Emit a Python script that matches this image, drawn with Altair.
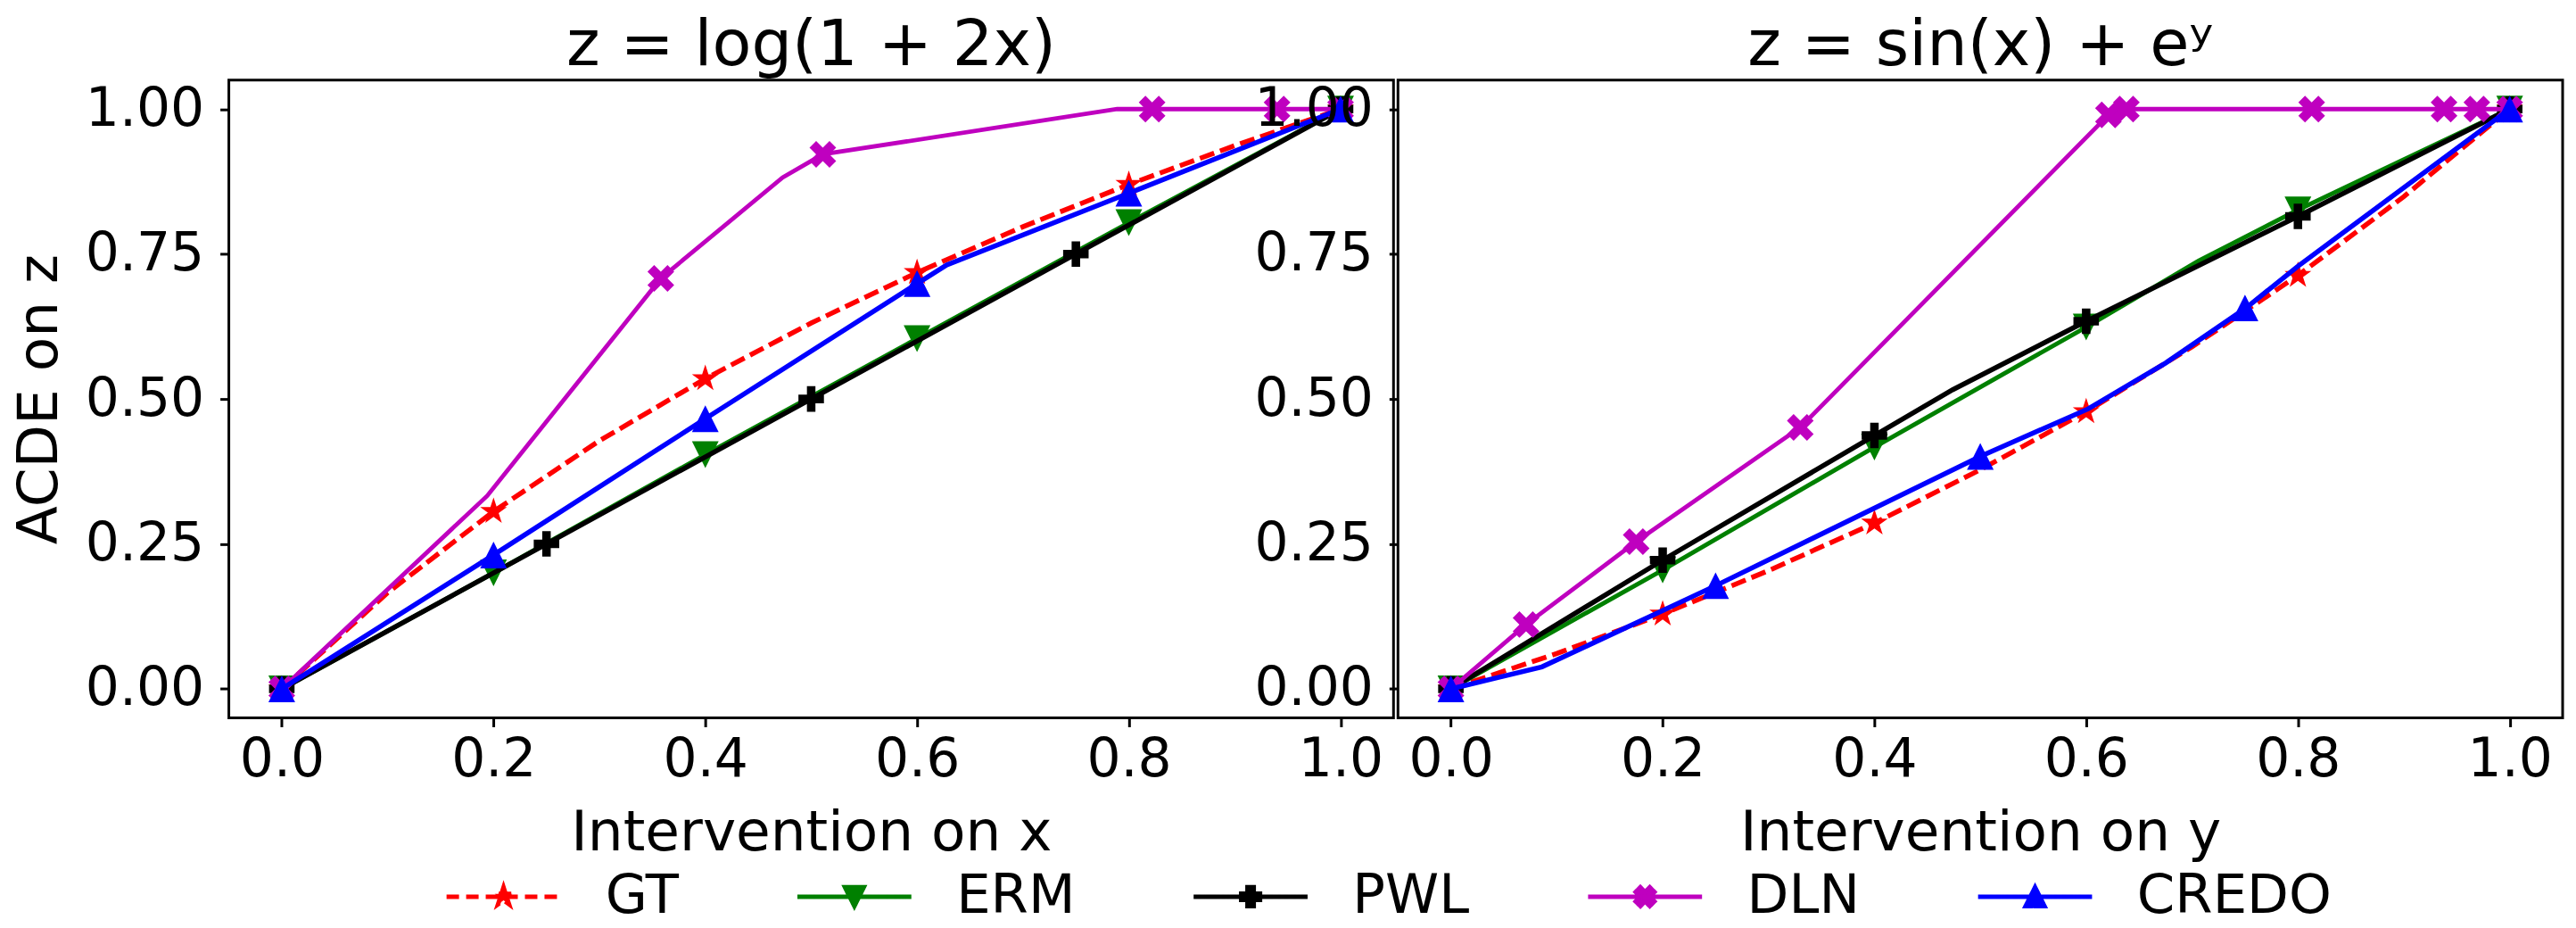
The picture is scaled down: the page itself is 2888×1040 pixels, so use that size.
import altair as alt
import pandas as pd

SERIES = ["GT", "ERM", "PWL", "DLN", "CREDO"]
COLORS = ["#ff0000", "#008000", "#000000", "#bf00bf", "#0000ff"]

X_TICKS = [0.0, 0.2, 0.4, 0.6, 0.8, 1.0]
Y_TICKS = [0.0, 0.25, 0.5, 0.75, 1.0]

TITLE_LEFT = "z = log(1 + 2x)"
TITLE_RIGHT = "z = sin(x) + eʸ"
XLABEL_LEFT = "Intervention on x"
XLABEL_RIGHT = "Intervention on y"
YLABEL = "ACDE on z"

# ---------------- Left panel: intervention on x ----------------
L_GT_X = [0.0, 0.1, 0.2, 0.3, 0.4, 0.5, 0.6, 0.7, 0.8, 0.9, 1.0]
L_GT_Y = [0.0, 0.166, 0.306, 0.428, 0.535, 0.631, 0.718, 0.797, 0.870, 0.937, 1.0]
L_GT_MX = [0.0, 0.2, 0.4, 0.6, 0.8, 1.0]
L_GT_MY = [0.0, 0.306, 0.535, 0.718, 0.870, 1.0]

L_ERM_X = [0.0, 0.2, 0.4, 0.6, 0.8, 1.0]
L_ERM_Y = [0.0, 0.200, 0.404, 0.604, 0.804, 1.0]
L_ERM_MX = [0.0, 0.2, 0.4, 0.6, 0.8, 1.0]
L_ERM_MY = [0.0, 0.200, 0.404, 0.604, 0.804, 1.0]

L_PWL_X = [0.0, 0.25, 0.5, 0.75, 1.0]
L_PWL_Y = [0.0, 0.25, 0.5, 0.75, 1.0]
L_PWL_MX = [0.0, 0.25, 0.5, 0.75, 1.0]
L_PWL_MY = [0.0, 0.25, 0.5, 0.75, 1.0]

L_DLN_X = [0.0, 0.194, 0.358, 0.473, 0.511, 0.789, 0.822, 0.940, 1.0]
L_DLN_Y = [0.0, 0.333, 0.708, 0.882, 0.922, 1.0, 1.0, 1.0, 1.0]
L_DLN_MX = [0.0, 0.358, 0.511, 0.822, 0.940, 1.0]
L_DLN_MY = [0.0, 0.708, 0.922, 1.0, 1.0, 1.0]

L_CREDO_X = [0.0, 0.2, 0.4, 0.6, 0.628, 0.8, 1.0]
L_CREDO_Y = [0.0, 0.231, 0.466, 0.699, 0.731, 0.855, 1.0]
L_CREDO_MX = [0.0, 0.2, 0.4, 0.6, 0.8, 1.0]
L_CREDO_MY = [0.0, 0.231, 0.466, 0.699, 0.855, 1.0]

# ---------------- Right panel: intervention on y ----------------
R_GT_X = [0.0, 0.1, 0.2, 0.3, 0.4, 0.5, 0.6, 0.7, 0.8, 0.9, 1.0]
R_GT_Y = [0.0, 0.061, 0.129, 0.204, 0.286, 0.378, 0.478, 0.590, 0.713, 0.849, 1.0]
R_GT_MX = [0.0, 0.2, 0.4, 0.6, 0.8, 1.0]
R_GT_MY = [0.0, 0.129, 0.286, 0.478, 0.713, 1.0]

R_ERM_X = [0.0, 0.2, 0.4, 0.6, 0.706, 0.8, 1.0]
R_ERM_Y = [0.0, 0.205, 0.417, 0.624, 0.738, 0.826, 1.0]
R_ERM_MX = [0.0, 0.2, 0.4, 0.6, 0.8, 1.0]
R_ERM_MY = [0.0, 0.205, 0.417, 0.624, 0.826, 1.0]

R_PWL_X = [0.0, 0.2, 0.4, 0.474, 0.6, 0.8, 1.0]
R_PWL_Y = [0.0, 0.222, 0.437, 0.516, 0.634, 0.815, 1.0]
R_PWL_MX = [0.0, 0.2, 0.4, 0.6, 0.8, 1.0]
R_PWL_MY = [0.0, 0.222, 0.437, 0.634, 0.815, 1.0]

R_DLN_X = [0.0, 0.071, 0.175, 0.330, 0.621, 0.638, 0.813, 0.938, 0.969, 1.0]
R_DLN_Y = [0.0, 0.111, 0.254, 0.451, 0.990, 1.0, 1.0, 1.0, 1.0, 1.0]
R_DLN_MX = [0.0, 0.071, 0.175, 0.330, 0.621, 0.638, 0.813, 0.938, 0.969, 1.0]
R_DLN_MY = [0.0, 0.111, 0.254, 0.451, 0.990, 1.0, 1.0, 1.0, 1.0, 1.0]

R_CREDO_X = [0.0, 0.086, 0.2, 0.25, 0.5, 0.602, 0.675, 0.751, 0.8, 1.0]
R_CREDO_Y = [0.0, 0.038, 0.135, 0.178, 0.401, 0.483, 0.562, 0.657, 0.729, 1.0]
R_CREDO_MX = [0.0, 0.25, 0.5, 0.75, 1.0]
R_CREDO_MY = [0.0, 0.178, 0.401, 0.657, 1.0]

TABLE = {
    "L": {
        "GT": (L_GT_X, L_GT_Y, L_GT_MX, L_GT_MY),
        "ERM": (L_ERM_X, L_ERM_Y, L_ERM_MX, L_ERM_MY),
        "PWL": (L_PWL_X, L_PWL_Y, L_PWL_MX, L_PWL_MY),
        "DLN": (L_DLN_X, L_DLN_Y, L_DLN_MX, L_DLN_MY),
        "CREDO": (L_CREDO_X, L_CREDO_Y, L_CREDO_MX, L_CREDO_MY),
    },
    "R": {
        "GT": (R_GT_X, R_GT_Y, R_GT_MX, R_GT_MY),
        "ERM": (R_ERM_X, R_ERM_Y, R_ERM_MX, R_ERM_MY),
        "PWL": (R_PWL_X, R_PWL_Y, R_PWL_MX, R_PWL_MY),
        "DLN": (R_DLN_X, R_DLN_Y, R_DLN_MX, R_DLN_MY),
        "CREDO": (R_CREDO_X, R_CREDO_Y, R_CREDO_MX, R_CREDO_MY),
    },
}

rows = []
for panel, series_map in TABLE.items():
    for s, (lx, ly, mx, my) in series_map.items():
        for i, (a, b) in enumerate(zip(lx, ly)):
            rows.append({"panel": panel, "series": s, "kind": "line", "idx": i, "x": a, "y": b})
        for i, (a, b) in enumerate(zip(mx, my)):
            rows.append({"panel": panel, "series": s, "kind": "mark", "idx": i, "x": a, "y": b})
df = pd.DataFrame(rows)

# ---------------- marker glyphs (unit square, y down) ----------------
STAR = [(0, -1), (0.2245, -0.309), (0.951, -0.309), (0.363, 0.118), (0.588, 0.809),
        (0, 0.382), (-0.588, 0.809), (-0.363, 0.118), (-0.951, -0.309), (-0.2245, -0.309)]
TRI_DOWN = [(-1, -1), (1, -1), (0, 1)]
TRI_UP = [(0, -1), (1, 1), (-1, 1)]
PLUS = [(-1/3, -1), (1/3, -1), (1/3, -1/3), (1, -1/3), (1, 1/3), (1/3, 1/3), (1/3, 1),
        (-1/3, 1), (-1/3, 1/3), (-1, 1/3), (-1, -1/3), (-1/3, -1/3)]
XMARK = [(0.5, -1), (1, -0.5), (0.5, 0), (1, 0.5), (0.5, 1), (0, 0.5), (-0.5, 1),
         (-1, 0.5), (-0.5, 0), (-1, -0.5), (-0.5, -1), (0, -0.5)]

COLOR_OF = dict(zip(SERIES, COLORS))
GLYPH = {"GT": STAR, "ERM": TRI_DOWN, "PWL": PLUS, "DLN": XMARK, "CREDO": TRI_UP}
MSIZE = {"GT": 1000, "ERM": 900, "PWL": 820, "DLN": 900, "CREDO": 900}
LWIDTH = {"GT": 5.5, "ERM": 5, "PWL": 5.5, "DLN": 4.8, "CREDO": 5.5}
DASHES = [[14, 8], [1, 0], [1, 0], [1, 0], [1, 0]]


def path(pts, s=1.0):
    return "M" + "L".join(f"{x * s:.4f},{y * s:.4f}" for x, y in pts) + "Z"


LEG_SCALE = 0.165
LEGEND_PATHS = ["M-1,0L1,0" + path(GLYPH[s], LEG_SCALE) for s in SERIES]

FONT = "DejaVu Sans"
W, H = 1308, 716

xscale = alt.Scale(domain=[-0.05, 1.05], nice=False, zero=False)
yscale = alt.Scale(domain=[-0.05, 1.05], nice=False, zero=False)


def panel_chart(panel, title, xtitle, ytitle, with_legend):
    X = alt.X("x:Q", scale=xscale,
              axis=alt.Axis(values=X_TICKS, format=".1f", title=xtitle))
    Y = alt.Y("y:Q", scale=yscale,
              axis=alt.Axis(values=Y_TICKS, format=".2f", title=ytitle))
    base = alt.Chart(df)
    layers = []
    for s in SERIES:
        line_kw = dict(strokeWidth=LWIDTH[s], color=COLOR_OF[s])
        if s == "GT":
            line_kw["strokeDash"] = [17, 7]
        ln = (base.transform_filter(
                f"datum.panel == '{panel}' && datum.series == '{s}' && datum.kind == 'line'")
              .mark_line(**line_kw)
              .encode(x=X, y=Y, order=alt.Order("idx:Q")))
        pt = (base.transform_filter(
                f"datum.panel == '{panel}' && datum.series == '{s}' && datum.kind == 'mark'")
              .mark_point(filled=True, opacity=1, shape=path(GLYPH[s]), size=MSIZE[s],
                          color=COLOR_OF[s])
              .encode(x=X, y=Y))
        layers += [ln, pt]
    if with_legend:
        leg = alt.Legend(title=None, orient="none", legendX=242, legendY=850,
                         direction="horizontal", columns=5, symbolSize=16384,
                         symbolStrokeWidth=5, labelFontSize=61, labelFont=FONT,
                         labelColor="black", labelOffset=48, columnPadding=122,
                         labelLimit=0, padding=0, symbolOpacity=1)
        lg = (base.transform_filter("datum.panel == 'L' && datum.kind == 'mark'")
              .mark_point(filled=True, opacity=0)
              .encode(
                  x=X, y=Y,
                  fill=alt.Fill("series:N", scale=alt.Scale(domain=SERIES, range=COLORS), legend=leg),
                  stroke=alt.Stroke("series:N", scale=alt.Scale(domain=SERIES, range=COLORS), legend=leg),
                  shape=alt.Shape("series:N", scale=alt.Scale(domain=SERIES, range=LEGEND_PATHS), legend=leg),
                  strokeDash=alt.StrokeDash("series:N", scale=alt.Scale(domain=SERIES, range=DASHES),
                                            legend=leg),
              ))
        layers.append(lg)
    return alt.layer(*layers).properties(width=W, height=H, title=alt.Title(title))


left = panel_chart("L", TITLE_LEFT, XLABEL_LEFT, YLABEL, True)
right = panel_chart("R", TITLE_RIGHT, XLABEL_RIGHT, None, False)

chart = (
    alt.hconcat(left, right, spacing=5, bounds="flush")
    .properties(padding={"left": 3, "top": 4, "right": 5, "bottom": 0}, background="white")
    .configure_view(stroke="black", strokeWidth=3)
    .configure_axis(
        domain=False, grid=False, ticks=True, tickColor="black", tickWidth=3, tickSize=10,
        labelFont=FONT, labelFontSize=60, labelColor="black",
        titleFont=FONT, titleFontSize=63, titleFontWeight="normal", titleColor="black",
    )
    .configure_axisX(labelPadding=8, titlePadding=21)
    .configure_axisY(labelPadding=18, titlePadding=19)
    .configure_title(font=FONT, fontSize=72, fontWeight="normal", color="black",
                     anchor="middle", offset=2)
)

chart.save("out.html", embed_options={"renderer": "svg", "actions": False})
